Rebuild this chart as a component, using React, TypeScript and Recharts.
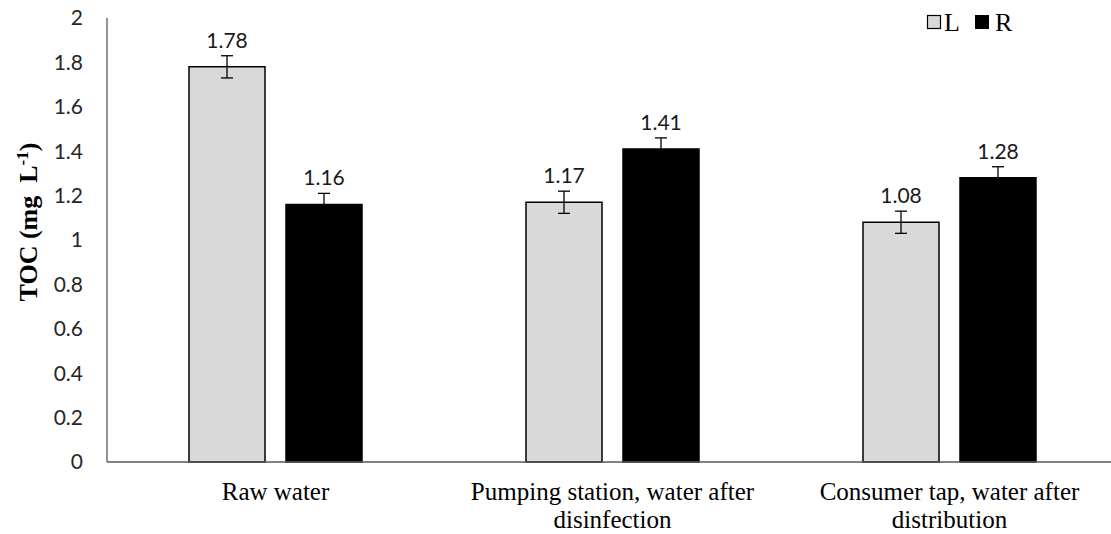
import React from "react";
import {
  BarChart,
  Bar,
  XAxis,
  YAxis,
  ErrorBar,
  LabelList,
  Legend,
} from "recharts";

// category labels, split the way they wrap under the axis
const categoryLines = [
  ["Raw water"],
  ["Pumping station, water after", "disinfection"],
  ["Consumer tap, water after", "distribution"],
];
const categories = categoryLines.map((l) => l.join(" "));

const valuesL = [1.78, 1.17, 1.08];
const valuesR = [1.16, 1.41, 1.28];
const errorsL = [0.05, 0.05, 0.05];
const errorsR = [0.05, 0.05, 0.05];

const yTicks = [0, 0.2, 0.4, 0.6, 0.8, 1, 1.2, 1.4, 1.6, 1.8, 2];

const data = categories.map((name, i) => ({
  name,
  L: valuesL[i],
  R: valuesR[i],
  errL: errorsL[i],
  errR: errorsR[i],
}));

const SANS = "Lato, 'Open Sans', sans-serif";
const SERIF = "'Liberation Serif', 'Times New Roman', serif";

function CategoryTick(props: any) {
  const { x, y, payload } = props;
  const lines = categoryLines[payload.index] || [payload.value];
  return (
    <text
      x={x}
      y={y + 38}
      textAnchor="middle"
      fontFamily={SERIF}
      fontSize={25}
      fill="#000"
    >
      {lines.map((line, i) => (
        <tspan key={i} x={x} dy={i === 0 ? 0 : 28}>
          {line}
        </tspan>
      ))}
    </text>
  );
}

function YTitle() {
  return (
    <text
      transform="rotate(-90)"
      x={-222}
      y={37}
      textAnchor="middle"
      fontFamily={SERIF}
      fontWeight="bold"
      fontSize={26}
      fill="#000"
      style={{ whiteSpace: "pre" }}
    >
      {"TOC (mg  L"}
      <tspan dy={-9} fontSize={17}>
        -1
      </tspan>
      <tspan dy={9}>)</tspan>
    </text>
  );
}

function LegendBox() {
  return (
    <svg width={110} height={44} style={{ display: "block", overflow: "visible" }}>
      <rect x={1.5} y={10.5} width={13} height={13} fill="#d9d9d9" stroke="#000" strokeWidth={1.2} />
      <text x={18} y={26} fontFamily={SERIF} fontSize={26} fill="#000">
        L
      </text>
      <rect x={49} y={10} width={14} height={14} fill="#000" />
      <text x={69} y={26} fontFamily={SERIF} fontSize={26} fill="#000">
        R
      </text>
    </svg>
  );
}

export default function App() {
  return (
    <div
      style={{
        position: "absolute",
        left: 0,
        top: 0,
        width: 1111,
        height: 534,
        overflow: "hidden",
        background: "#fff",
      }}
    >
      <BarChart
        width={1130}
        height={534}
        data={data}
        margin={{ top: 18, right: 12, bottom: 0, left: 0 }}
        barGap={21}
      >
        <XAxis
          dataKey="name"
          height={72}
          interval={0}
          tickLine={false}
          tickSize={0}
          tickMargin={0}
          axisLine={{ stroke: "#595959", strokeWidth: 1.3 }}
          tick={<CategoryTick />}
        />
        <YAxis
          width={107}
          domain={[0, 2]}
          ticks={yTicks}
          interval={0}
          tickLine={false}
          tickSize={0}
          tickMargin={24}
          axisLine={{ stroke: "#595959", strokeWidth: 1.3 }}
          tick={{ fontFamily: SANS, fontSize: 21, fill: "#262626" }}
          label={() => <YTitle />}
        />
        <Legend
          layout="vertical"
          align="center"
          verticalAlign="middle"
          wrapperStyle={{ position: "absolute", left: 926, top: 5, width: 110, height: 44 }}
          content={() => <LegendBox />}
        />
        <Bar
          dataKey="L"
          fill="#d9d9d9"
          stroke="#000"
          strokeWidth={1.5}
          barSize={76}
          isAnimationActive={false}
        >
          <ErrorBar dataKey="errL" width={6} stroke="#000" strokeWidth={1.3} />
          <LabelList
            dataKey="L"
            position="top"
            offset={19}
            style={{ fontFamily: SANS, fontSize: 21, fill: "#1a1a1a" }}
          />
        </Bar>
        <Bar
          dataKey="R"
          fill="#000"
          stroke="#000"
          strokeWidth={1.5}
          barSize={76}
          isAnimationActive={false}
        >
          <ErrorBar dataKey="errR" width={6} stroke="#000" strokeWidth={1.3} />
          <LabelList
            dataKey="R"
            position="top"
            offset={19}
            style={{ fontFamily: SANS, fontSize: 21, fill: "#1a1a1a" }}
          />
        </Bar>
      </BarChart>
    </div>
  );
}
